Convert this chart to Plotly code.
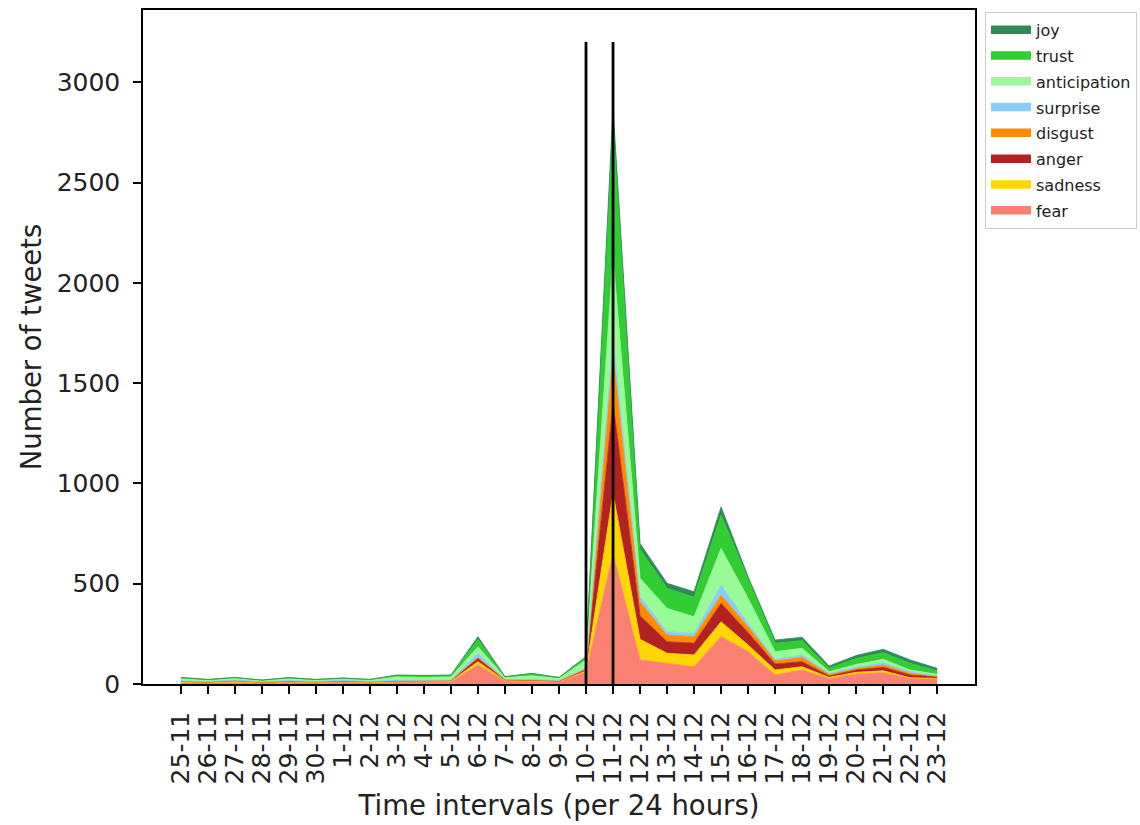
import plotly.graph_objects as go

# Daily intervals (day-month)
days = ['25-11', '26-11', '27-11', '28-11', '29-11', '30-11', '1-12', '2-12',
        '3-12', '4-12', '5-12', '6-12', '7-12', '8-12', '9-12', '10-12',
        '11-12', '12-12', '13-12', '14-12', '15-12', '16-12', '17-12', '18-12',
        '19-12', '20-12', '21-12', '22-12', '23-12']

# Tweet counts per emotion (stacked bottom to top)
fear = [6, 5, 7, 5, 8, 6, 9, 6, 8, 8, 10, 95, 14, 12, 10, 60,
        650, 120, 103, 86, 236, 161, 45, 70, 26, 50, 56, 28, 25]
sadness = [5, 3, 8, 3, 4, 3, 4, 3, 4, 4, 4, 16, 4, 4, 3, 5,
           300, 103, 50, 59, 74, 33, 25, 16, 7, 8, 10, 3, 3]
anger = [2, 2, 2, 1, 2, 2, 2, 2, 3, 3, 3, 17, 3, 3, 2, 7,
         450, 117, 58, 58, 92, 62, 30, 25, 7, 12, 17, 14, 8]
disgust = [1, 1, 1, 1, 1, 1, 1, 1, 1, 1, 1, 5, 1, 1, 1, 3,
           240, 70, 33, 33, 41, 30, 15, 22, 8, 7, 12, 8, 2]
surprise = [2, 1, 2, 1, 2, 1, 2, 1, 2, 2, 2, 20, 2, 3, 2, 5,
            80, 25, 17, 16, 50, 16, 8, 12, 5, 7, 11, 8, 3]
anticipation = [10, 6, 8, 5, 9, 6, 7, 6, 17, 15, 15, 33, 8, 18, 9, 40,
                410, 92, 116, 83, 183, 125, 38, 33, 8, 13, 17, 9, 7]
trust = [5, 4, 4, 3, 5, 3, 4, 3, 8, 8, 8, 36, 4, 10, 5, 14,
         690, 144, 100, 97, 166, 91, 42, 38, 17, 30, 33, 33, 17]
joy = [2, 1, 1, 1, 1, 1, 1, 1, 2, 2, 2, 14, 1, 2, 1, 3,
       50, 30, 25, 28, 41, 17, 16, 17, 12, 15, 17, 17, 13]

# Event markers
event_days = ['10-12', '11-12']
event_height = 3200

series = [
    ('fear', fear, '#FA8072'),
    ('sadness', sadness, '#FFD700'),
    ('anger', anger, '#B22222'),
    ('disgust', disgust, '#FF8C00'),
    ('surprise', surprise, '#87CEFA'),
    ('anticipation', anticipation, '#98FB98'),
    ('trust', trust, '#32CD32'),
    ('joy', joy, '#2E8B57'),
]

fig = go.Figure()
n = len(series)
for i, (name, vals, color) in enumerate(series):
    fig.add_trace(go.Scatter(
        x=days, y=vals, name=name, mode='lines',
        stackgroup='emotions', legendgroup=name, legendrank=n - i,
        fillcolor=color, line=dict(color=color, width=0.8),
        hoverinfo='x+y+name',
    ))

for d in event_days:
    fig.add_trace(go.Scatter(
        x=[d, d], y=[0, event_height], mode='lines',
        line=dict(color='black', width=2.8), showlegend=False,
        hoverinfo='skip',
    ))

axis_font = dict(family='DejaVu Sans', size=25, color='#222')
title_font = dict(family='DejaVu Sans', size=27.5, color='#222')

fig.update_layout(
    width=1140, height=825,
    margin=dict(l=143, r=165, t=10, b=141, autoexpand=False),
    paper_bgcolor='white', plot_bgcolor='white',
    font=dict(family='DejaVu Sans'),
    showlegend=True,
    legend=dict(
        traceorder='grouped', tracegroupgap=2,
        x=1.1947, y=0.997, xanchor='right', yanchor='top',
        bgcolor='white', bordercolor='#cccccc', borderwidth=1,
        font=dict(family='DejaVu Sans', size=16, color='#222'),
        itemsizing='constant', itemwidth=40,
    ),
    xaxis=dict(
        type='category', range=[-1.4, 29.4],
        tickmode='array', tickvals=days, ticktext=days,
        showline=True, linecolor='black', linewidth=1.5, mirror=True,
        ticks='outside', ticklen=8, tickwidth=1.5, tickcolor='black',
        tickangle=-90, tickfont=axis_font, ticklabelstandoff=8,
        showgrid=False, zeroline=False,
        title=dict(text='Time intervals (per 24 hours)', font=title_font, standoff=12),
        automargin=False,
    ),
    yaxis=dict(
        range=[0, 3360], tickvals=[0, 500, 1000, 1500, 2000, 2500, 3000],
        showline=True, linecolor='black', linewidth=1.5, mirror=True,
        ticks='outside', ticklen=8, tickwidth=1.5, tickcolor='black',
        tickfont=axis_font, ticklabelstandoff=8,
        showgrid=False, zeroline=False,
        title=dict(text='Number of tweets', font=title_font, standoff=7),
        automargin=False,
    ),
)

fig.write_html('out.html')
